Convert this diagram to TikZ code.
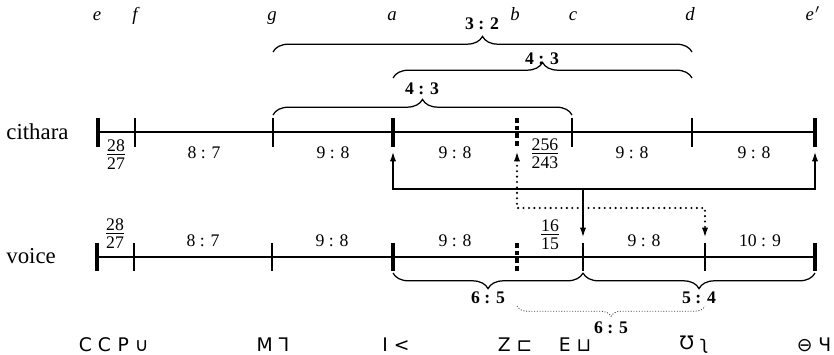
\documentclass[tikz,border=0pt,11pt]{standalone}
\usepackage{fontspec}
\setmainfont{Liberation Serif}
\newfontfamily\notefont{DejaVu Sans}
\usepackage{tikz}
\usetikzlibrary{arrows.meta,decorations.pathreplacing}
\newcommand{\rat}[2]{{\renewcommand{\arraystretch}{0.78}%
  \begin{tabular}{@{}c@{}}#1\\[-1pt]\hline\rule{0pt}{6.9pt}#2\end{tabular}}}

\begin{document}
\begin{tikzpicture}[x=0.48pt,y=-0.48pt,
  string/.style={line width=0.6pt},
  bound/.style={line width=2.2pt},
  pyk/.style={line width=2.2pt,dash pattern=on 2.2pt off 1.5pt},
  ratio/.style={font=\fontsize{8.5}{10}\selectfont,inner sep=0pt},
  interval/.style={font=\fontsize{8.5}{10}\selectfont\bfseries,inner sep=0pt},
  pitch/.style={font=\fontsize{9}{11}\selectfont\itshape,anchor=base,inner sep=0pt},
  sign/.style={font=\notefont\fontsize{9}{11}\selectfont,inner sep=0pt},
  brace/.style={decorate,decoration={brace,amplitude=7.5pt},line width=0.6pt},
  mbrace/.style={decorate,decoration={brace,mirror,amplitude=7.5pt},line width=0.6pt},
  move/.style={line width=1.3pt,{Latex[length=5pt,width=3pt]}-{Latex[length=5pt,width=3pt]}},
  retune/.style={line width=1.1pt,line cap=round,dash pattern=on 0pt off 2.6pt,
                {Latex[length=5pt,width=3pt]}-{Latex[length=5pt,width=3pt]}}
]
  \useasboundingbox (0,0) rectangle (834,355);
  % Note names
  \node[pitch] (ne)  at (97,21)  {e};
  \node[pitch] (nf)  at (135,21) {f};
  \node[pitch] (ng)  at (272,21) {g};
  \node[pitch] (na)  at (392,21) {a};
  \node[pitch] (nb)  at (515,21) {b};
  \node[pitch] (nc)  at (573,21) {c};
  \node[pitch] (nd)  at (690,21) {d};
  \node[pitch] (ne2) at (813,21) {e\kern0.5pt\textup{$'$}};
  % Braces above
  \draw[brace] (273,52) -- (692,52);
  \node[interval] (fifth) at (482,24) {3 : 2};
  \draw[brace] (393,78) -- (692,78);
  \node[interval] (fourth1) at (542,59) {4 : 3};
  \draw[brace] (273,115) -- (572,115);
  \node[interval] (fourth2) at (422,89) {4 : 3};
  % Cithara
  \node[anchor=base west,inner sep=0pt] (cithara) at (6,140) {cithara};
  \draw[string] (98,132) -- (815,132);
  \draw[bound] (98,118) -- (98,147);
  \draw[string] (135,118) -- (135,147);
  \draw[string] (273,118) -- (273,147);
  \draw[bound] (393,118) -- (393,147);
  \draw[pyk] (517,118) -- (517,147);
  \draw[string] (572,118) -- (572,147);
  \draw[string] (692,118) -- (692,147);
  \draw[bound] (815,118) -- (815,147);
  \node[ratio] (c1) at (116,157) {\rat{28}{27}};
  \node[ratio] (c2) at (204,153) {8 : 7};
  \node[ratio] (c3) at (333,153) {9 : 8};
  \node[ratio] (c4) at (455,153) {9 : 8};
  \node[ratio] (c5) at (545,156) {\rat{256}{243}};
  \node[ratio] (c6) at (632,153) {9 : 8};
  \node[ratio] (c7) at (754,153) {9 : 8};
  % Voice
  \node[anchor=base west,inner sep=0pt] (voice) at (6,264) {voice};
  \draw[string] (97,257) -- (815,257);
  \draw[bound] (97,243) -- (97,271);
  \draw[string] (134,243) -- (134,271);
  \draw[string] (272,243) -- (272,271);
  \draw[bound] (393,243) -- (393,271);
  \draw[pyk] (517,243) -- (517,271);
  \draw[string] (583,243) -- (583,271);
  \draw[string] (705,243) -- (705,271);
  \draw[bound] (815,243) -- (815,271);
  \node[ratio] (v1) at (115,236) {\rat{28}{27}};
  \node[ratio] (v2) at (203,241) {8 : 7};
  \node[ratio] (v3) at (332,241) {9 : 8};
  \node[ratio] (v4) at (455,241) {9 : 8};
  \node[ratio] (v5) at (550,237) {\rat{16}{15}};
  \node[ratio] (v6) at (644,241) {9 : 8};
  \node[ratio] (v7) at (760,241) {10 : 9};
  % Arrows between the strings
  \coordinate (cit-a)  at (393,151);
  \coordinate (cit-b)  at (517,151);
  \coordinate (cit-e2) at (815,151);
  \coordinate (voc-c)  at (583,238);
  \coordinate (voc-d)  at (705,238);
  \coordinate (hub)    at (583,189);
  \coordinate (turn)   at (517,208);
  \draw[move] (cit-a) |- (hub) -| (cit-e2);
  \draw[move,-{Latex[length=5pt,width=3pt]}] (hub) -- (voc-c);
  \draw[retune] (cit-b) -- (turn) -| (voc-d);
  % Braces below
  \draw[mbrace] (393,273) -- (583,273);
  \node[interval] (third1) at (488,298) {6 : 5};
  \draw[mbrace] (583,273) -- (815,273);
  \node[interval] (third2) at (699,298) {5 : 4};
  \draw[mbrace,decoration={amplitude=5pt},line width=0.4pt,black!70,
        dash pattern=on 0.5pt off 0.8pt] (517,306) -- (705,306);
  \node[interval] (third3) at (611,328) {6 : 5};
  % Notation signs
  \node[sign] (se)  at (95,345)  {C C};
  \node[sign] (sf)  at (133,345) {P ∪};
  \node[sign] (sg)  at (273,345) {M ⅂};
  \node[sign] (sa)  at (396,345) {I <};
  \node[sign] (sb)  at (515,345) {Z ⊏};
  \node[sign] (sc)  at (575,345) {E ⊔};
  \node[sign] (sd)  at (694,345) {Ʊ ʅ};
  \node[sign] (se2) at (814,345) {⊖ Ч};
\end{tikzpicture}
\end{document}
